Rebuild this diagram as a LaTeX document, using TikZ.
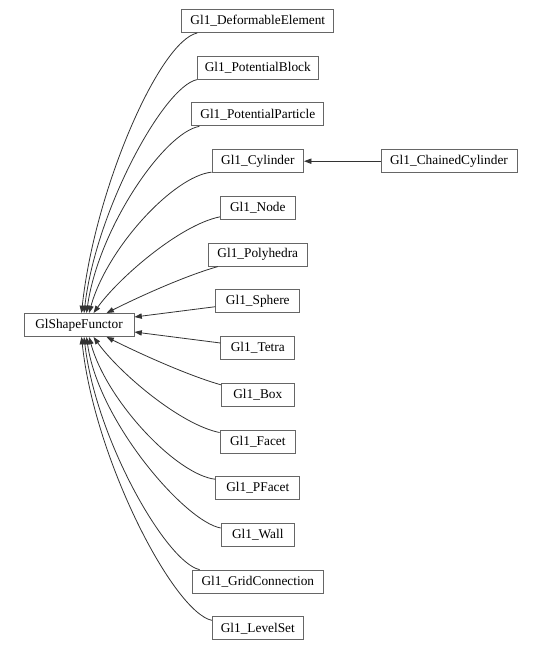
\documentclass[tikz,border=0pt]{standalone}
\usepackage{fontspec}
\setmainfont{Liberation Serif}
\usetikzlibrary{arrows.meta,calc}
\definecolor{boxline}{HTML}{666666}
\definecolor{edgeline}{HTML}{333333}
\begin{document}
\begin{tikzpicture}[x=0.75pt,y=-0.75pt,
  cls/.style={draw=boxline,line width=0.7pt,fill=white,inner sep=0pt,
    minimum height=17.25pt,font=\fontsize{10pt}{12pt}\selectfont},
  bw/.style={minimum width=#1*0.75pt},
  edge/.style={draw=edgeline,line width=0.6pt,-{Triangle[length=5.5pt,width=4pt]}}]
\useasboundingbox (0,0) rectangle (541,650);
\def\cx{257.8}
\node[cls,bw=110] (gsf) at (79,325) {GlShapeFunctor};
\node[cls,bw=152] (de) at (\cx,21) {Gl1\_DeformableElement};
\node[cls,bw=121] (pb) at (\cx,67.7) {Gl1\_PotentialBlock};
\node[cls,bw=132] (pp) at (\cx,114.4) {Gl1\_PotentialParticle};
\node[cls,bw=91.6] (cyl) at (\cx,161.2) {Gl1\_Cylinder};
\node[cls,bw=136] (cc) at (449,161.2) {Gl1\_ChainedCylinder};
\node[cls,bw=75] (nd) at (\cx,207.9) {Gl1\_Node};
\node[cls,bw=99] (poly) at (\cx,254.6) {Gl1\_Polyhedra};
\node[cls,bw=84] (sph) at (\cx,301.3) {Gl1\_Sphere};
\node[cls,bw=73.7] (tet) at (\cx,348) {Gl1\_Tetra};
\node[cls,bw=72.7] (box) at (\cx,394.8) {Gl1\_Box};
\node[cls,bw=75.4] (fac) at (\cx,441.5) {Gl1\_Facet};
\node[cls,bw=84] (pfac) at (\cx,488.2) {Gl1\_PFacet};
\node[cls,bw=73.4] (wall) at (\cx,534.9) {Gl1\_Wall};
\node[cls,bw=131.4] (gc) at (\cx,581.6) {Gl1\_GridConnection};
\node[cls,bw=91] (ls) at (\cx,628.3) {Gl1\_LevelSet};
% top edges
\draw[edge] ($(de.south west)+(16,0)$) .. controls +(-38,8) and +(13,-123) .. ($(gsf.north west)+(58,0)$);
\draw[edge] ($(pb.south west)+(0,0)$) .. controls +(-33,7) and +(12,-103) .. ($(gsf.north west)+(60.5,0)$);
\draw[edge] ($(pp.south west)+(8,0)$) .. controls +(-35,6) and +(12,-85) .. ($(gsf.north west)+(63,0)$);
\draw[edge] ($(cyl.south west)+(0,-1)$) .. controls +(-38,4) and +(18,-65) .. ($(gsf.north west)+(65.5,0)$);
\draw[edge] ($(nd.south west)+(0,-3)$) .. controls +(-40,8) and +(25,-35) .. ($(gsf.north west)+(70,0)$);
\draw[edge] ($(poly.south west)+(10,0)$) .. controls +(-35,10) and +(30,-15) .. ($(gsf.north west)+(83,0)$);
\draw[edge] ($(sph.west)+(0,5.4)$) -- ($(gsf.east)+(0,-8)$);
\draw[edge] ($(tet.west)+(0,-5)$) -- ($(gsf.east)+(0,7)$);
% bottom edges
\draw[edge] ($(box.north west)+(0,2)$) .. controls +(-35,-10) and +(30,15) .. ($(gsf.south west)+(83,0)$);
\draw[edge] ($(fac.north west)+(0,3)$) .. controls +(-40,-8) and +(25,35) .. ($(gsf.south west)+(70,0)$);
\draw[edge] ($(pfac.north west)+(0,3)$) .. controls +(-38,-4) and +(18,65) .. ($(gsf.south west)+(65.5,0)$);
\draw[edge] ($(wall.north west)+(0,5)$) .. controls +(-35,-6) and +(12,85) .. ($(gsf.south west)+(63,0)$);
\draw[edge] ($(gc.north west)+(8,0)$) .. controls +(-33,-7) and +(12,103) .. ($(gsf.south west)+(60.5,0)$);
\draw[edge] ($(ls.north west)+(0,4)$) .. controls +(-38,-8) and +(13,123) .. ($(gsf.south west)+(58,0)$);
% chained cylinder
\draw[edge] (cc.west) -- (cyl.east);
\end{tikzpicture}
\end{document}
